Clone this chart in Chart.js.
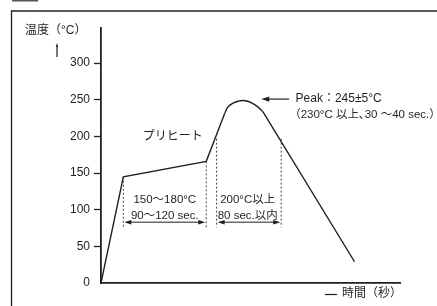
<!DOCTYPE html>
<html>
<head>
<meta charset="utf-8">
<script src="https://cdn.jsdelivr.net/npm/chart.js@4/dist/chart.umd.min.js"></script>
<style>
  html, body { margin: 0; padding: 0; background: #fff; }
  #wrap { width: 437px; height: 306px; }
</style>
</head>
<body>
<div id="wrap"><canvas id="reflow" width="437" height="306"></canvas></div>
<script>
'use strict';

// ── Data (time in sec, temperature in °C) ─────────────
const profileTimes = [0, 28, 132, 155, 159, 165, 172, 178, 184, 190, 197, 203, 318];
const profileTemps = [0, 145, 166, 231, 240, 245, 248, 249, 248, 245, 240, 234, 29];
const peakFrom = 3, peakTo = 11;   // rounded part of the profile

const guideTimes = [28, 132, 145, 226];
const guideTops  = [145, 166, 197, 197];
const guideBottom = 76;

const spanStarts = [28, 145];
const spanEnds   = [132, 226];

const yTicks = [0, 50, 100, 150, 200, 250, 300];

const INK  = '#231f20';
const FONT = '"Liberation Sans", Arial, "Noto Sans CJK JP", sans-serif';

// ── Extra drawing: frame, titles, notes, arrows ──────
function arrowHead(ctx, x, y, dir, len, half) {
  ctx.beginPath();
  ctx.moveTo(x, y);
  ctx.lineTo(x - dir * len, y - half);
  ctx.lineTo(x - dir * len, y + half);
  ctx.closePath();
  ctx.fill();
}

const notes = {
  id: 'notes',
  afterDatasetsDraw(chart) {
    const { ctx, scales: { x, y } } = chart;
    const px = v => x.getPixelForValue(v);
    const py = v => y.getPixelForValue(v);

    ctx.save();
    ctx.strokeStyle = INK;
    ctx.fillStyle = INK;

    // outer frame (runs off the right / bottom)
    ctx.lineWidth = 1.3;
    ctx.beginPath();
    ctx.moveTo(11.5, 310);
    ctx.lineTo(11.5, 11);
    ctx.lineTo(440, 11);
    ctx.stroke();
    ctx.fillStyle = '#555';
    ctx.fillRect(12, 0, 26, 1.5);
    ctx.fillStyle = INK;

    // axis titles
    ctx.font = '12px ' + FONT;
    ctx.textBaseline = 'middle';
    ctx.textAlign = 'left';
    ctx.fillText('温度（°C）', 25, 31);
    ctx.lineWidth = 1.2;
    ctx.beginPath();
    ctx.moveTo(57, 57);
    ctx.lineTo(57, 46);
    ctx.stroke();
    ctx.beginPath();
    ctx.moveTo(57, 43);
    ctx.lineTo(55.8, 47);
    ctx.lineTo(58.2, 47);
    ctx.closePath();
    ctx.fill();

    ctx.beginPath();
    ctx.moveTo(325, 294.5);
    ctx.lineTo(337, 294.5);
    ctx.stroke();
    ctx.fillText('時間（秒）', 342, 294);

    // preheat label
    ctx.textAlign = 'right';
    ctx.fillText('プリヒート', px(127.5), py(199));

    // peak label + arrow
    ctx.textAlign = 'left';
    ctx.fillText('Peak：245±5°C', px(244), py(251));
    ctx.font = '11.5px ' + FONT;
    ctx.fillText('（230°C 以上､30 〜40 sec.）', px(236), py(229));
    ctx.lineWidth = 1.2;
    ctx.beginPath();
    ctx.moveTo(px(236), py(251));
    ctx.lineTo(px(201) + 5, py(251));
    ctx.stroke();
    arrowHead(ctx, px(201), py(251), -1, 8, 2.6);

    // span notes
    ctx.textAlign = 'center';
    ctx.fillText('150〜180°C', px(80), py(113));
    ctx.fillText('90〜120 sec.', px(80), py(91));
    ctx.fillText('200°C以上', px(184), py(113));
    ctx.fillText('80 sec.以内', px(184), py(91));

    // double arrows
    ctx.lineWidth = 1;
    spanStarts.forEach((s, i) => {
      const x0 = px(s), x1 = px(spanEnds[i]), yy = py(83);
      ctx.beginPath();
      ctx.moveTo(x0 + 4, yy);
      ctx.lineTo(x1 - 4, yy);
      ctx.stroke();
      arrowHead(ctx, x0 + 1, yy, -1, 7, 2.2);
      arrowHead(ctx, x1 - 1, yy, 1, 7, 2.2);
    });

    ctx.restore();
  }
};

// ── Chart ────────────────────────────────────────────
const pts = profileTimes.map((t, i) => ({ x: t, y: profileTemps[i] }));

const profileLine = (data, tension) => ({
  data,
  showLine: true,
  borderColor: INK,
  borderWidth: 1.4,
  pointRadius: 0,
  tension
});

const guideSets = guideTimes.map((t, i) => ({
  data: [{ x: t, y: guideTops[i] }, { x: t, y: guideBottom }],
  showLine: true,
  borderColor: '#444',
  borderWidth: 1,
  borderDash: [2, 2],
  pointRadius: 0
}));

new Chart(document.getElementById('reflow').getContext('2d'), {
  type: 'scatter',
  data: {
    datasets: [
      profileLine(pts.slice(0, peakFrom + 1), 0),
      profileLine(pts.slice(peakFrom, peakTo + 1), 0.4),
      profileLine(pts.slice(peakTo), 0),
      ...guideSets
    ]
  },
  options: {
    responsive: false,
    animation: false,
    devicePixelRatio: 1,
    layout: { padding: { left: 0, top: 28, right: 37, bottom: 0 } },
    plugins: { legend: { display: false }, tooltip: { enabled: false } },
    scales: {
      x: {
        type: 'linear',
        min: 0,
        max: 375,
        ticks: { display: false },
        grid: { display: false },
        border: { color: INK, width: 1.8 },
        afterFit: s => { s.height = 23; }
      },
      y: {
        min: 0,
        max: 348,
        afterBuildTicks: s => { s.ticks = yTicks.map(v => ({ value: v })); },
        ticks: {
          color: INK,
          padding: 4,
          font: { size: 12, family: FONT }
        },
        grid: {
          drawOnChartArea: false,
          drawTicks: true,
          tickLength: 7,
          tickWidth: 1.3,
          color: c => (c.tick && c.tick.value === 0) ? 'rgba(0,0,0,0)' : INK
        },
        border: { color: INK, width: 1.8 },
        afterFit: s => { s.width = 101; }
      }
    }
  },
  plugins: [notes]
});
</script>
</body>
</html>
